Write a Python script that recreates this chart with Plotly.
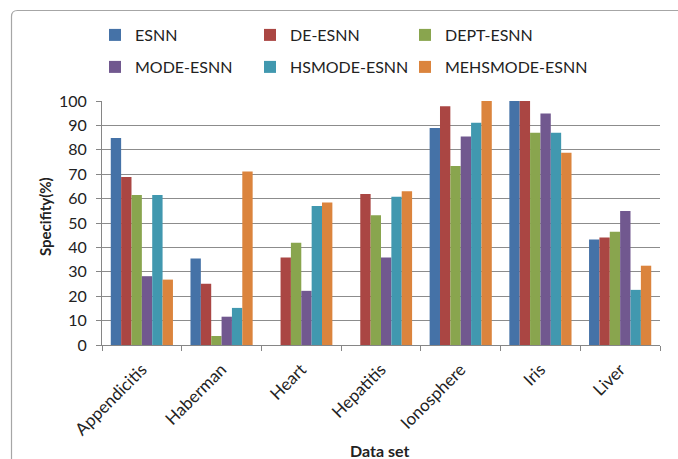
import plotly.graph_objects as go

categories = ["Appendicitis", "Haberman", "Heart", "Hepatitis", "Ionosphere", "Iris", "Liver"]
esnn = [84.8, 35.5, None, None, 88.9, 100, 43.2]
de_esnn = [68.9, 25.1, 35.9, 61.9, 97.8, 100, 44.1]
dept_esnn = [61.5, 3.7, 41.9, 53.2, 73.4, 87.0, 46.4]
mode_esnn = [28.2, 11.6, 22.2, 35.9, 85.5, 94.9, 54.9]
hsmode_esnn = [61.5, 15.2, 57.0, 60.8, 91.1, 87.0, 22.6]
mehsmode_esnn = [26.8, 71.1, 58.4, 63.0, 100, 78.8, 32.5]

series_names = ["ESNN", "DE-ESNN", "DEPT-ESNN", "MODE-ESNN", "HSMODE-ESNN", "MEHSMODE-ESNN"]
series_values = [esnn, de_esnn, dept_esnn, mode_esnn, hsmode_esnn, mehsmode_esnn]
series_colors = ["#4572A7", "#AA4643", "#89A54E", "#71588F", "#4198AF", "#DB843D"]

x_title = "Data set"
y_title = "Specifity(%)"

W, H = 678, 459
L, R, T, B = 102, 660, 101, 345

fig = go.Figure()
legend_layouts = {}
for i, (name, vals, color) in enumerate(zip(series_names, series_values, series_colors)):
    lg = f"legend{i + 2}"
    fig.add_trace(go.Bar(x=categories, y=vals, name=name, marker_color=color,
                         marker_line_width=0, legend=lg))
    col, row = i % 3, i // 3
    legend_layouts[lg] = dict(
        xref="container", yref="container",
        x=(95 + 155 * col) / W, y=1 - (18 + 32 * row) / H,
        xanchor="left", yanchor="top",
        font=dict(size=16), bgcolor="rgba(0,0,0,0)",
    )

def px(x):
    return (x - L) / (R - L)

def py(y):
    return (B - y) / (B - T)

rad = 6
x0, y0 = 11.5, 10.5
path = (f"M {px(x0)},{py(470)} L {px(x0)},{py(y0 + rad)} "
        f"Q {px(x0)},{py(y0)} {px(x0 + rad)},{py(y0)} L {px(700)},{py(y0)}")

font = "Lato, 'Open Sans', sans-serif"
grid = "#8c8c8c"

fig.update_layout(
    width=W, height=H,
    margin=dict(l=L, r=W - R, t=T, b=H - B, pad=0, autoexpand=False),
    plot_bgcolor="white", paper_bgcolor="white",
    barmode="group", bargap=0.22, bargroupgap=0,
    font=dict(family=font, size=15, color="#222222"),
    shapes=[dict(type="path", path=path, xref="paper", yref="paper",
                 line=dict(color="#a6a6a6", width=1.2))],
    annotations=[
        dict(text=f"<b>{x_title}</b>", xref="paper", yref="paper",
             x=px(379), y=py(450), xanchor="center", yanchor="middle",
             showarrow=False, font=dict(size=16)),
        dict(text=f"<b>{y_title}</b>", xref="paper", yref="paper",
             x=px(45), y=py(216), xanchor="center", yanchor="middle",
             textangle=-90, showarrow=False, font=dict(size=15)),
    ],
    xaxis=dict(
        tickangle=-45, tickson="boundaries", ticks="outside", ticklen=5,
        tickcolor="#868686", showline=True, linecolor="#868686",
        showgrid=False, tickfont=dict(size=17), automargin=False,
        ticklabelstandoff=7,
    ),
    yaxis=dict(
        range=[0, 100], dtick=10, tick0=0,
        ticks="outside", ticklen=5, tickcolor="#868686",
        showline=True, linecolor="#868686",
        showgrid=True, gridcolor=grid, gridwidth=1,
        zeroline=False, tickfont=dict(size=16), automargin=False,
        ticklabelstandoff=6,
    ),
    **legend_layouts,
)

fig.write_html("out.html", config={"displayModeBar": False},
               post_script="document.body.style.margin='0';document.body.style.padding='0';")
